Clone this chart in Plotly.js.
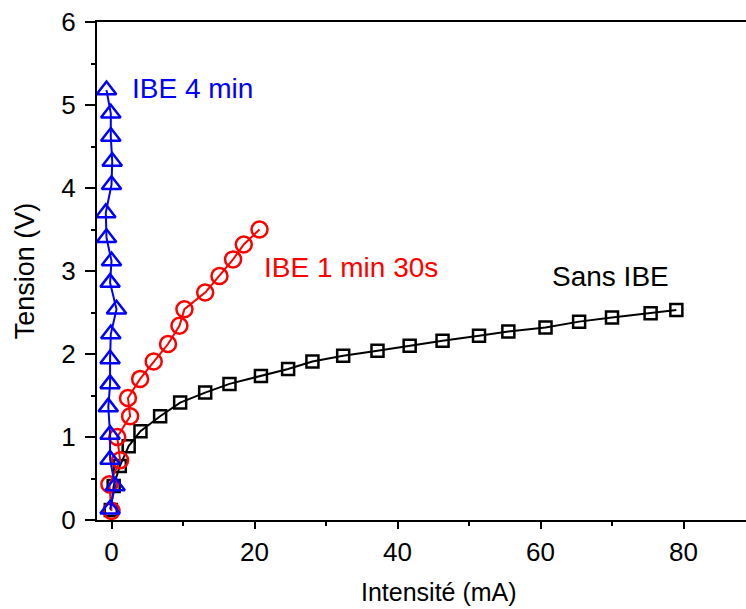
<!DOCTYPE html>
<html>
<head>
<meta charset="utf-8">
<script src="https://cdn.plot.ly/plotly-3.0.1.min.js"></script>
<style>html,body{margin:0;padding:0;background:#fff;}#chart{width:746px;height:609px;}</style>
</head>
<body>
<div id="chart"></div>
<script>
// Sans IBE (black squares)
const sansX = [-0.1, 0.3, 1.16, 2.4, 4.05, 6.8, 9.6, 13.1, 16.5, 20.9, 24.7, 28.1, 32.4, 37.2, 41.7, 46.3, 51.4, 55.5, 60.7, 65.4, 70.0, 75.4, 79.0];
const sansY = [0.12, 0.41, 0.65, 0.89, 1.07, 1.25, 1.415, 1.535, 1.64, 1.735, 1.82, 1.91, 1.98, 2.04, 2.10, 2.16, 2.22, 2.27, 2.32, 2.39, 2.44, 2.49, 2.53];
// IBE 1 min 30s (red circles)
const ibe130X = [0.0, -0.3, 1.2, 0.8, 2.6, 2.3, 4.0, 5.9, 7.9, 9.5, 10.2, 13.1, 15.1, 17.0, 18.5, 20.7];
const ibe130Y = [0.11, 0.43, 0.72, 1.00, 1.25, 1.47, 1.70, 1.91, 2.12, 2.34, 2.54, 2.74, 2.94, 3.14, 3.32, 3.50];
// IBE 4 min (blue triangles)
const ibe4X = [-0.2, 0.5, -0.2, -0.2, -0.45, -0.2, -0.2, -0.1, 0.7, -0.2, 0.0, -0.7, -0.8, 0.0, 0.1, -0.1, -0.1, -0.7];
const ibe4Y = [0.13, 0.41, 0.73, 1.03, 1.36, 1.64, 1.94, 2.24, 2.54, 2.86, 3.12, 3.40, 3.70, 4.04, 4.32, 4.62, 4.90, 5.18];
// Labels
const seriesNames = ["Sans IBE", "IBE 1 min 30s", "IBE 4 min"];
const xTitle = "Intensité (mA)";
const yTitle = "Tension (V)";

const font = "Liberation Sans, Arial, sans-serif";

const traces = [
  {x: sansX, y: sansY, name: seriesNames[0], mode: "lines+markers", type: "scatter",
   line: {color: "#000000", width: 2},
   marker: {symbol: "square-open", size: 12, color: "#000000", line: {width: 2.5, color: "#000000"}}},
  {x: ibe130X, y: ibe130Y, name: seriesNames[1], mode: "lines+markers", type: "scatter",
   line: {color: "#ff0000", width: 2},
   marker: {symbol: "circle-open", size: 16, color: "#ff0000", line: {width: 2.5, color: "#ff0000"}}},
  {x: ibe4X, y: ibe4Y, name: seriesNames[2], mode: "lines+markers", type: "scatter",
   line: {color: "#0000ff", width: 2},
   marker: {symbol: "triangle-up-open", size: 17, color: "#0000ff", line: {width: 2.5, color: "#0000ff"}}}
];

const layout = {
  width: 746, height: 609,
  margin: {l: 97, r: 0, t: 22, b: 89},
  paper_bgcolor: "#ffffff", plot_bgcolor: "#ffffff",
  showlegend: false,
  font: {family: font, color: "#000000"},
  xaxis: {
    range: [-2.03, 88.74], showgrid: false, zeroline: false,
    showline: true, linecolor: "#000000", linewidth: 2, mirror: true,
    ticks: "outside", ticklen: 7, tickwidth: 2, tickcolor: "#000000",
    tick0: 0, dtick: 20,
    minor: {ticks: "outside", dtick: 10, ticklen: 4, tickwidth: 2, tickcolor: "#000000"},
    tickfont: {family: font, size: 26, color: "#000000"},
    ticklabelstandoff: 1
  },
  yaxis: {
    range: [0, 6], showgrid: false, zeroline: false,
    showline: true, linecolor: "#000000", linewidth: 2, mirror: false,
    ticks: "outside", ticklen: 10, tickwidth: 2, tickcolor: "#000000",
    tick0: 0, dtick: 1,
    minor: {ticks: "outside", dtick: 0.5, ticklen: 4, tickwidth: 2, tickcolor: "#000000"},
    tickfont: {family: font, size: 26, color: "#000000"},
    ticklabelstandoff: 4,
    title: {text: yTitle, font: {family: font, size: 27, color: "#000000"}, standoff: 19}
  },
  annotations: [
    {xref: "paper", yref: "paper", x: 0.5275, y: -0.1125, xanchor: "center", yanchor: "top",
     text: xTitle, showarrow: false, font: {family: font, size: 25, color: "#000000"}},
    {x: 2.6, y: 5.2, xanchor: "left", yanchor: "middle", text: seriesNames[2], showarrow: false,
     font: {family: font, size: 28, color: "#0000ff"}},
    {x: 21.1, y: 3.04, xanchor: "left", yanchor: "middle", text: seriesNames[1], showarrow: false,
     font: {family: font, size: 28, color: "#ff0000"}},
    {x: 61.3, y: 2.93, xanchor: "left", yanchor: "middle", text: seriesNames[0], showarrow: false,
     font: {family: font, size: 28, color: "#000000"}}
  ]
};

Plotly.newPlot("chart", traces, layout, {displayModeBar: false, staticPlot: true});
</script>
</body>
</html>
